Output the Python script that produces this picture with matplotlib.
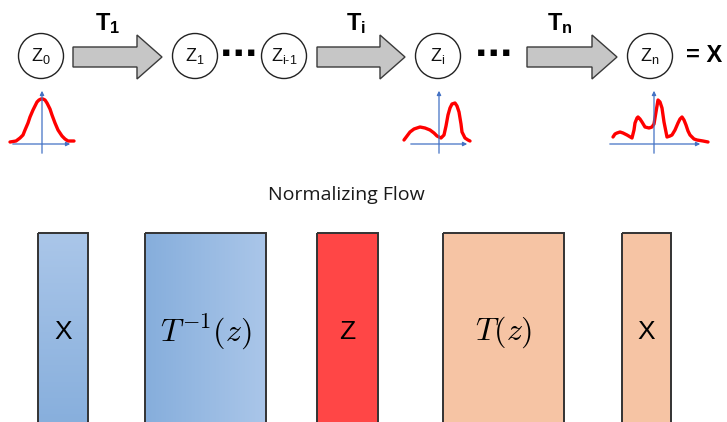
import numpy as np
import matplotlib
matplotlib.use("Agg")
import matplotlib.pyplot as plt
from matplotlib.patches import Circle, Polygon, Rectangle

plt.rcParams['mathtext.fontset'] = 'custom'
plt.rcParams['mathtext.rm'] = 'Liberation Sans'
plt.rcParams['mathtext.bf'] = 'Liberation Sans:bold'
plt.rcParams['mathtext.it'] = 'Liberation Sans:italic'

# ---- data (pixel coordinates) ----
node_labels = ['Z_0', 'Z_1', r'Z_{\text{i-1}}', 'Z_i', 'Z_n']
node_x = [41, 195, 284, 438, 650]
node_y = 56

arrow_labels = ['1', 'i', 'n']
arrow_start = [73, 317, 527]
arrow_end = [162, 405, 617]
arrow_label_x = [108, 356, 560]

dots_x = [239, 494]

# density sketches: (axis origin x, axis x-range), curve points
z0_axis = (42, 10, 73)
z0_curve_x = [10, 16, 20, 23, 25, 28, 30, 33, 35, 37, 39, 41, 43, 45, 47, 50,
              52, 55, 58, 62, 65, 68, 74]
z0_curve_y = [142, 141, 138, 135, 130, 123, 117, 110, 106, 102, 100, 99, 99,
              100, 103, 109, 115, 123, 130, 136, 139, 141, 141]

zi_axis = (439, 408, 470)
zi_curve_x = [404, 407, 410, 414, 420, 425, 430, 434, 437, 441, 444, 446, 448,
              450, 452, 455, 457, 459, 461, 462, 465, 468, 470]
zi_curve_y = [140, 136, 132, 129, 127, 128, 130, 133, 136, 138, 135, 126, 115,
              108, 104, 103, 106, 112, 124, 132, 138, 140, 141]

zn_axis = (654, 607, 703)
zn_curve_x = [613, 615, 617, 620, 623, 627, 632, 634, 635, 637, 638, 640, 642,
              645, 649, 652, 654, 655, 657, 658, 660, 662, 664, 667, 670, 672,
              675, 678, 680, 682, 684, 686, 688, 690, 694, 697, 703, 708]
zn_curve_y = [137, 134, 133, 132, 133, 135, 138, 130, 123, 118, 117, 119, 122,
              127, 128, 127, 124, 118, 106, 100, 102, 108, 122, 137, 136, 135,
              130, 123, 119, 117, 120, 125, 131, 135, 139, 140, 141, 142]

box_labels = ['X', r'$T^{-1}(z)$', 'Z', r'$T(z)$', 'X']
box_left = [38, 145, 317, 443, 622]
box_right = [88, 266, 378, 564, 671]
box_top = 233
box_label_y = 332

W, H = 727, 422
fig = plt.figure(figsize=(W / 100, H / 100), dpi=100)
ax = fig.add_axes([0, 0, 1, 1])
ax.set_xlim(0, W)
ax.set_ylim(H, 0)
ax.axis('off')

# ---- top row: nodes ----
for lab, x in zip(node_labels, node_x):
    ax.add_patch(Circle((x, node_y), 22.5, facecolor='white', edgecolor='#222222', lw=1.0))
    ax.text(x, node_y, r'$\mathrm{%s}$' % lab, ha='center', va='center',
            fontsize=13, color='#111111')

# ---- arrows ----
for x0, x1, lab, lx in zip(arrow_start, arrow_end, arrow_labels, arrow_label_x):
    hb = x1 - 25
    yc = node_y + 1
    pts = [(x0, yc - 10), (hb, yc - 10), (hb, yc - 22), (x1, yc),
           (hb, yc + 22), (hb, yc + 10), (x0, yc + 10)]
    ax.add_patch(Polygon(pts, closed=True, facecolor='#c6c6c6', edgecolor='#3a3a3a', lw=1.0))
    ax.text(lx, 24, r'$\mathbf{T_{%s}}$' % lab, ha='center', va='center',
            fontsize=17, color='black')

for x in dots_x:
    ax.text(x, node_y - 3, '\u25aa \u25aa \u25aa', ha='center', va='center',
            fontsize=9, family='DejaVu Sans', color='black')

ax.text(704, node_y, '= X', ha='center', va='center', fontsize=17,
        fontweight='bold', family='Liberation Sans')

# ---- density sketches ----
for axis, cx, cy in [(z0_axis, z0_curve_x, z0_curve_y),
                     (zi_axis, zi_curve_x, zi_curve_y),
                     (zn_axis, zn_curve_x, zn_curve_y)]:
    ox, xa, xb = axis
    ax.annotate('', xy=(xb, 144), xytext=(xa, 144),
                arrowprops=dict(arrowstyle='-|>', mutation_scale=6, color='#4472c4', lw=0.9))
    ax.annotate('', xy=(ox, 88), xytext=(ox, 156),
                arrowprops=dict(arrowstyle='-|>', mutation_scale=6, color='#4472c4', lw=0.9))
    ax.plot(cx, cy, color='#ff0000', lw=2.4, solid_capstyle='round', solid_joinstyle='round')

# ---- bottom: normalizing flow boxes ----
ax.text(346, 195, 'Normalizing Flow', ha='center', va='center', fontsize=14,
        family='Open Sans', color='#1a1a1a')

grad_v = np.linspace(0, 1, 100).reshape(-1, 1)
grad_h = np.linspace(0, 1, 100).reshape(1, -1)
blue_v = matplotlib.colors.LinearSegmentedColormap.from_list('bv', ['#aac6e9', '#86aedc'])
blue_h = matplotlib.colors.LinearSegmentedColormap.from_list('bh', ['#86aedc', '#aac6e9'])
fills = [(grad_v, blue_v), (grad_h, blue_h), '#ff4646', '#f6c4a4', '#f6c4a4']

for lab, l, r, fill in zip(box_labels, box_left, box_right, fills):
    if isinstance(fill, tuple):
        g, cmap = fill
        im = ax.imshow(g, cmap=cmap, extent=(l, r, H + 10, box_top), aspect='auto', zorder=2)
        im.set_clip_path(Rectangle((l, box_top), r - l, H + 10 - box_top,
                                   transform=ax.transData))
    else:
        ax.add_patch(Rectangle((l, box_top), r - l, H + 10 - box_top, facecolor=fill,
                               edgecolor='none', zorder=2))
    ax.add_patch(Rectangle((l, box_top), r - l, H + 10 - box_top, facecolor='none',
                           edgecolor='#333333', lw=1.4, zorder=3))
    if lab.startswith('$'):
        ax.text((l + r) / 2, box_label_y, lab, ha='center', va='center', fontsize=23,
                math_fontfamily='cm', zorder=4)
    else:
        ax.text((l + r) / 2, box_label_y, lab, ha='center', va='center', fontsize=19,
                family='Liberation Sans', zorder=4)

ax.set_xlim(0, W)
ax.set_ylim(H, 0)
fig.savefig('out.png', dpi=100)
